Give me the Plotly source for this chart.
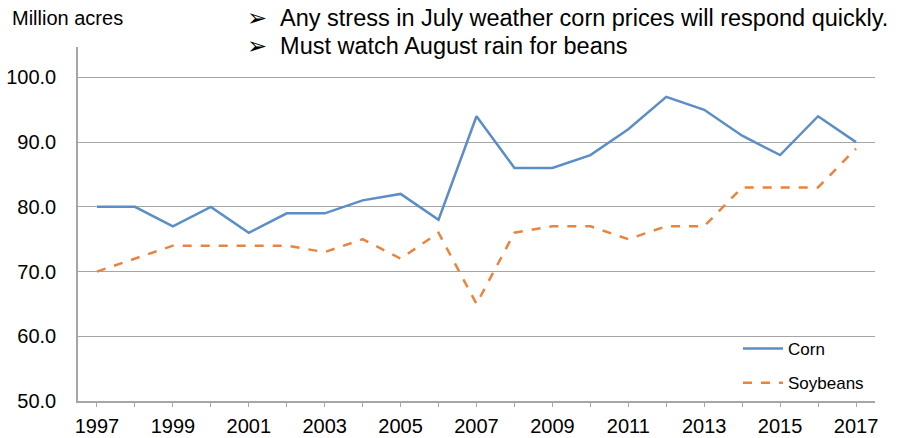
import plotly.graph_objects as go

years = list(range(1997, 2018))
corn = [80, 80, 77, 80, 76, 79, 79, 81, 82, 78, 94, 86, 86, 88, 92, 97, 95, 91, 88, 94, 90]
soybeans = [70, 72, 74, 74, 74, 74, 73, 75, 72, 76, 65, 76, 77, 77, 75, 77, 77, 83, 83, 83, 89]
y_ticks = [50, 60, 70, 80, 90, 100]
x_ticks = list(range(1997, 2018, 2))
bullets = ["➢\u00a0\u00a0Any stress in July weather corn prices will respond quickly.",
           "➢\u00a0\u00a0Must watch August rain for beans"]

L, R, T, B = 78, 24, 47, 37
PW, PH = 899 - L - R, 438 - T - B

fig = go.Figure()
fig.add_trace(go.Scatter(x=years, y=corn, mode="lines", name="Corn", legendgroup="c",
                         line=dict(color="#5B8EC6", width=2.5)))
fig.add_trace(go.Scatter(x=years, y=soybeans, mode="lines", name="Soybeans", legendgroup="s",
                         line=dict(color="#E8843E", width=2.5, dash="dash")))

fig.update_layout(
    width=899, height=438,
    margin=dict(l=L, r=R, t=T, b=B, autoexpand=False),
    paper_bgcolor="white", plot_bgcolor="white",
    font=dict(family="Liberation Sans, Arial, sans-serif", color="black", size=20),
    showlegend=True,
    legend=dict(x=1 - 6 / PW, y=(401 - 331) / PH, xanchor="right", yanchor="top",
                font=dict(size=17), bgcolor="rgba(0,0,0,0)", tracegroupgap=9,
                itemwidth=40),
    xaxis=dict(range=[1996.5, 2017.5], tickmode="array", tickvals=x_ticks,
               ticktext=[str(t) for t in x_ticks], showgrid=False,
               showline=True, linecolor="#A6A6A6", linewidth=1.5,
               ticks="outside", ticklen=4, tickcolor="#A6A6A6",
               minor=dict(ticks="outside", ticklen=4, tickcolor="#A6A6A6", dtick=1, tick0=1997),
               tickfont=dict(size=20), zeroline=False, automargin=False,
               ticklabelstandoff=2),
    yaxis=dict(range=[50, 104.7], tickmode="array", tickvals=y_ticks,
               ticktext=[f"{v:.1f}" for v in y_ticks],
               showgrid=True, gridcolor="#A6A6A6", gridwidth=1,
               showline=True, linecolor="#A6A6A6", linewidth=1.5,
               ticks="", tickfont=dict(size=20), zeroline=False, automargin=False,
               ticklabelstandoff=16),
)

fig.add_annotation(text="Million acres", xref="paper", yref="paper",
                   x=(10 - L) / PW, y=1 + (T - 18) / PH, xanchor="left", yanchor="middle",
                   showarrow=False, font=dict(size=20))
for i, (txt, yc) in enumerate(zip(bullets, [18, 46])):
    fig.add_annotation(text=txt, xref="paper", yref="paper",
                       x=(245 - L) / PW, y=1 + (T - yc) / PH,
                       xanchor="left", yanchor="middle", align="left", showarrow=False,
                       font=dict(size=23.5))

fig.write_html("out.html")
